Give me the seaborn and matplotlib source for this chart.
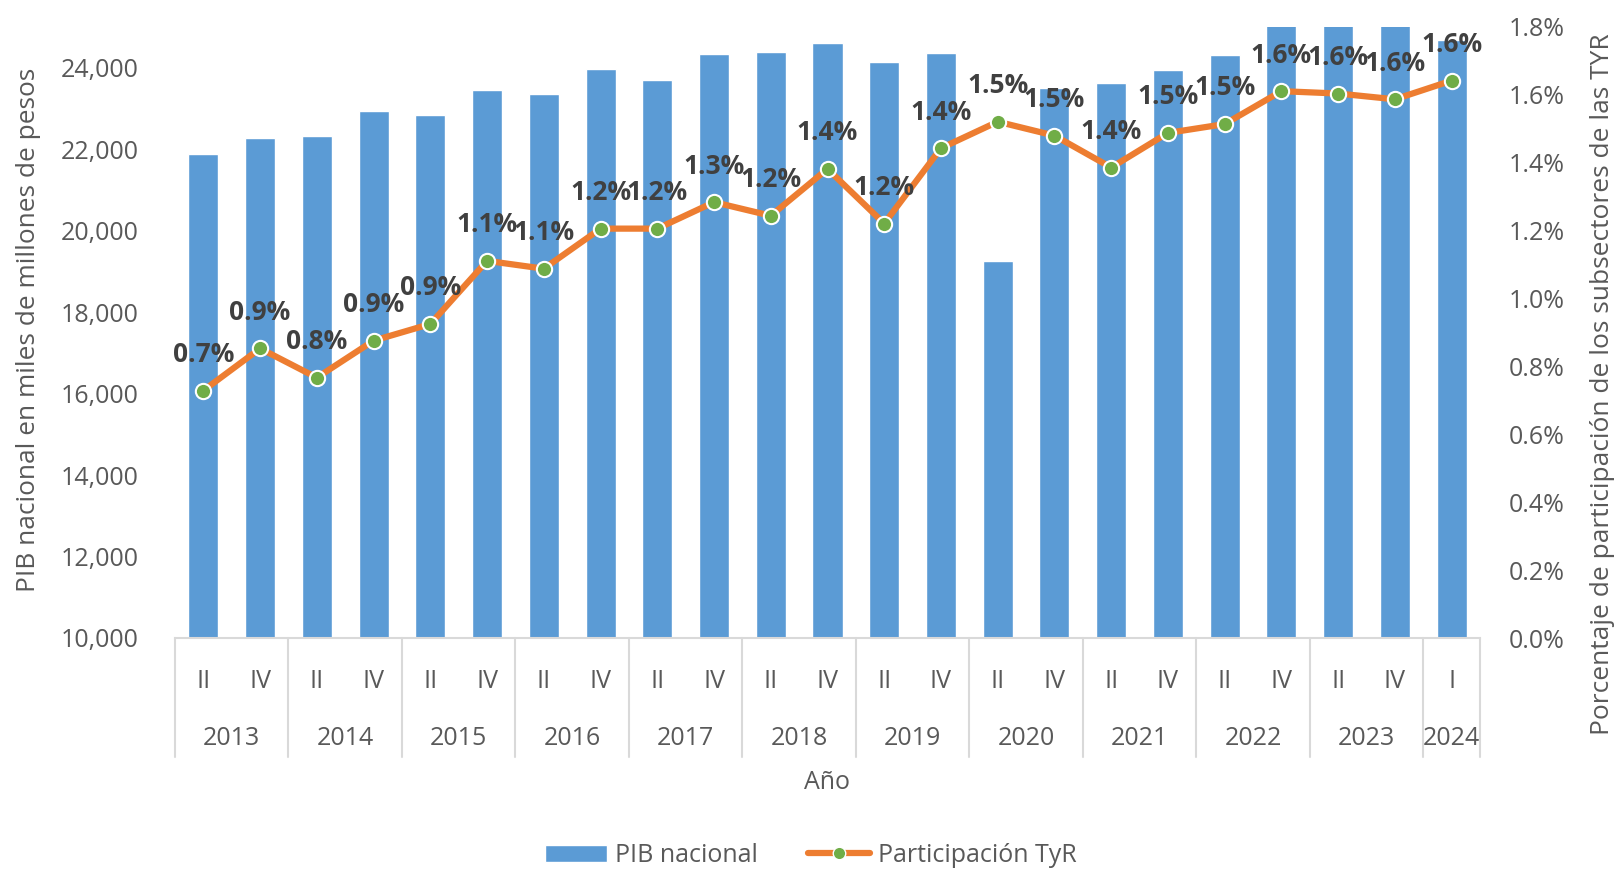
import numpy as np
import pandas as pd
import matplotlib
matplotlib.use('Agg')
import matplotlib.pyplot as plt
import matplotlib.transforms as mtransforms
from matplotlib.patches import Patch
from matplotlib.lines import Line2D
import seaborn as sns

# Data
years = ['2013', '2014', '2015', '2016', '2017', '2018', '2019', '2020', '2021', '2022', '2023', '2024']
quarters = ['II', 'IV'] * 11 + ['I']
pib = [21890, 22265, 22313, 22942, 22844, 23447, 23358, 23978, 23709, 24337, 24394, 24606,
       24150, 24362, 19245, 23505, 23619, 23953, 24320, 25300, 25400, 25500, 24688]
participacion = [0.729, 0.853, 0.767, 0.876, 0.925, 1.111, 1.088, 1.206, 1.206, 1.284, 1.244, 1.382,
                 1.221, 1.443, 1.521, 1.480, 1.386, 1.488, 1.514, 1.611, 1.604, 1.587, 1.642]

periodo = [f'{y}-{q}' for y in years[:-1] for q in ['II', 'IV']] + ['2024-I']
df = pd.DataFrame({'periodo': periodo, 'trimestre': quarters, 'pib': pib, 'tyr': participacion})

sns.set_style('white')
plt.rcParams['font.family'] = ['Open Sans', 'DejaVu Sans']

blue = '#5B9BD5'
orange = '#ED7D31'
green = '#70AD47'
txt = '#595959'
grid = '#D9D9D9'

fig = plt.figure(figsize=(16.21, 8.73), dpi=100)
ax = fig.add_axes([175 / 1621, 1 - 638 / 873, 1305 / 1621, 611 / 873])

sns.barplot(data=df, x='periodo', y='pib', color=blue, width=0.53, saturation=1, ax=ax)
ax.set_ylim(10000, 25000)
ax.set_xlim(-0.5, len(df) - 0.5)
ax.set_yticks(range(10000, 24001, 2000))
ax.set_yticklabels([f'{v:,}' for v in range(10000, 24001, 2000)])
ax.tick_params(axis='y', length=0, pad=26, labelsize=18, labelcolor=txt)
ax.set_xticks(range(len(df)))
ax.set_xticklabels(df['trimestre'])
ax.tick_params(axis='x', length=0, pad=22, labelsize=18, labelcolor=txt)
for s in ['top', 'right', 'left']:
    ax.spines[s].set_visible(False)
ax.spines['bottom'].set_color(grid)
ax.spines['bottom'].set_linewidth(1.5)

ax.set_xlabel('')
ylab = ax.set_ylabel('PIB nacional en miles de millones de pesos', fontsize=18, color=txt)
ax.yaxis.set_label_coords(-0.103, 0.504)

# two-level category axis
trans = mtransforms.blended_transform_factory(ax.transData, ax.transAxes)
bounds = [-0.5] + [i + 1.5 for i in range(0, 22, 2)] + [22.5]
for b in bounds:
    ax.plot([b, b], [0, -0.195], color=grid, lw=1.5, transform=trans, clip_on=False)
for i, y in enumerate(years):
    center = 2 * i + 0.5 if y != '2024' else 22
    ax.text(center, -0.164, y, transform=trans, ha='center', va='center', fontsize=18, color=txt)
ax.text(0.5, -0.236, 'Año', transform=ax.transAxes, ha='center', va='center', fontsize=18, color=txt)

# secondary axis: participation line
ax2 = ax.twinx()
xs = np.arange(len(df))
sns.lineplot(x=xs, y=df['tyr'], color=orange, lw=4.5, ax=ax2, zorder=3)
ax2.plot(xs, df['tyr'], ls='none', marker='o', ms=11, mfc=green, mec='white', mew=1.5, zorder=4)
ax2.set_ylim(0, 1.8)
ax2.set_yticks(np.arange(0, 1.81, 0.2))
ax2.set_yticklabels([f'{v:.1f}%' for v in np.arange(0, 1.81, 0.2)])
ax2.tick_params(axis='y', length=0, pad=21, labelsize=18, labelcolor=txt)
for s in ax2.spines.values():
    s.set_visible(False)
ylab2 = ax2.set_ylabel('Porcentaje de participación de los subsectores de las TYR', fontsize=18, color=txt)
ax2.yaxis.set_label_coords(1.084, 0.416)

# size the axis titles so they span the same length as in the reference
fig.canvas.draw()
renderer = fig.canvas.get_renderer()
for lab, target in [(ylab, 523), (ylab2, 702)]:
    h = lab.get_window_extent(renderer).height
    lab.set_fontsize(18 * target / h)

for x, v in zip(xs, df['tyr']):
    ax2.annotate(f'{v:.1f}%', (x, v), xytext=(0, 26), textcoords='offset points',
                 ha='center', va='center', fontsize=19, fontweight='bold', color='#404040', zorder=5)

handles = [Patch(facecolor=blue, label='PIB nacional'),
           Line2D([0], [0], color=orange, lw=4.5, marker='o', ms=9, mfc=green, mec='white',
                  label='Participación TyR')]
fig.legend(handles=handles, loc='center', bbox_to_anchor=(0.5, 0.02), ncol=2, frameon=False,
           fontsize=18, labelcolor=txt, handlelength=2.5, handletextpad=0.3, columnspacing=2.0)

fig.savefig('out.png', dpi=100)
